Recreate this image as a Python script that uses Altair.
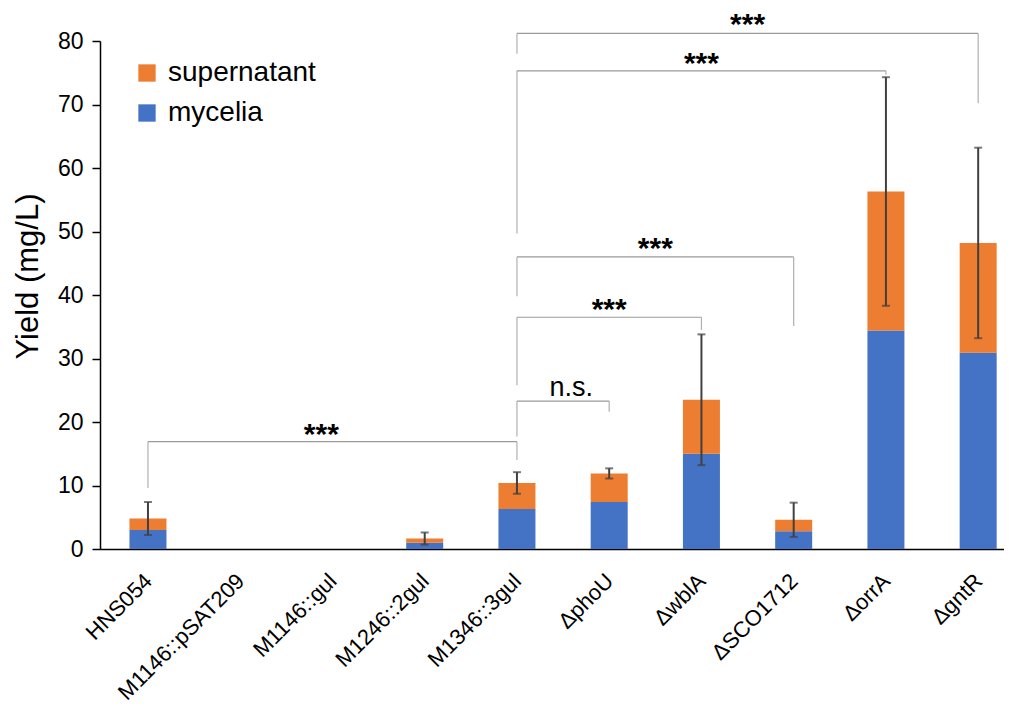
import altair as alt
import pandas as pd

strains = ["HNS054", "M1146::pSAT209", "M1146::gul", "M1246::2gul", "M1346::3gul",
           "ΔphoU", "ΔwblA", "ΔSCO1712", "ΔorrA", "ΔgntR"]
mycelia = [3.0, 0.0, 0.0, 1.0, 6.3, 7.4, 15.0, 2.8, 34.4, 30.9]
supernatant = [1.8, 0.0, 0.0, 0.65, 4.1, 4.5, 8.5, 1.8, 21.9, 17.3]
error = [2.6, 0.0, 0.0, 0.95, 1.7, 0.8, 10.3, 2.7, 18.0, 15.0]

# significance brackets: left index, right index, line level, left leg end, right leg end,
# label position and label
br_left = [0, 4, 4, 4, 4, 4]
br_right = [4, 5, 6, 7, 8, 9]
br_line = [16.9, 23.3, 36.5, 46.0, 75.3, 81.2]
br_leg_left = [9.6, 17.7, 25.8, 39.8, 49.7, 78.0]
br_leg_right = [14.0, 21.6, 34.5, 35.1, 74.7, 70.2]
br_text_x = [1.88, 4.59, 5.0, 5.5, 6.0, 6.5]
br_text_y = [17.9, 25.4, 37.6, 47.2, 76.3, 82.5]
br_label = ["***", "n.s.", "***", "***", "***", "***"]

FONT = "Liberation Sans"
ORANGE = "#ED7D31"
BLUE = "#4472C4"

rows = []
for i, s in enumerate(strains):
    rows.append({"idx": i, "strain": s, "series": "mycelia", "value": mycelia[i], "ord": 0})
    rows.append({"idx": i, "strain": s, "series": "supernatant", "value": supernatant[i], "ord": 1})
bars_df = pd.DataFrame(rows)

err_df = pd.DataFrame({
    "idx": list(range(len(strains))),
    "total": [m + s for m, s in zip(mycelia, supernatant)],
    "err": error,
})
err_df = err_df[err_df["err"] > 0].copy()
err_df["lo"] = err_df["total"] - err_df["err"]
err_df["hi"] = err_df["total"] + err_df["err"]

br_df = pd.DataFrame({
    "i": br_left, "j": br_right, "yl": br_line, "yll": br_leg_left,
    "ylr": br_leg_right, "tx": br_text_x, "ty": br_text_y, "label": br_label,
})
stars_df = br_df[br_df["label"] == "***"]
ns_df = br_df[br_df["label"] != "***"]

label_arr = "[" + ",".join("'" + s + "'" for s in strains) + "]"

xscale = alt.Scale(domain=[-0.52, 9.28], nice=False, zero=False, padding=0)
yscale = alt.Scale(domain=[0, 80], nice=False, padding=0)

x_axis = alt.Axis(values=list(range(len(strains))), labelExpr=label_arr + "[datum.value]",
                  title=None, ticks=False, grid=False, labelAngle=-45, labelFontSize=22,
                  labelFont=FONT, labelColor="black", domainColor="black", domainWidth=1.5,
                  labelPadding=21, labelOffset=-7, labelOverlap=False)
y_axis = alt.Axis(values=[0, 10, 20, 30, 40, 50, 60, 70, 80], title="Yield (mg/L)",
                  grid=False, tickSize=8, tickColor="black", domainColor="black",
                  domainWidth=1.5, tickWidth=1.5, labelFontSize=23, labelFont=FONT,
                  labelColor="black", titleFont=FONT, titleFontSize=31,
                  titleFontWeight="normal", titleColor="black", labelPadding=9,
                  titleX=-63, titleY=235, titleAngle=270, titleBaseline="alphabetic",
                  titleAlign="center")

bars = alt.Chart(bars_df).mark_bar(size=37).encode(
    x=alt.X("idx:Q", scale=xscale, axis=x_axis),
    y=alt.Y("value:Q", scale=yscale, axis=y_axis, stack="zero"),
    color=alt.Color("series:N",
                    scale=alt.Scale(domain=["supernatant", "mycelia"], range=[ORANGE, BLUE]),
                    legend=alt.Legend(title=None, orient="none", legendX=33, legendY=18,
                                      symbolType="square", symbolSize=300,
                                      symbolStrokeWidth=0, labelFontSize=28, labelFont=FONT,
                                      labelColor="black", rowPadding=12, labelOffset=7)),
    order=alt.Order("ord:Q"),
)

err_rule = alt.Chart(err_df).mark_rule(color="#404040", strokeWidth=2).encode(
    x="idx:Q", y="lo:Q", y2="hi:Q")
err_cap_hi = alt.Chart(err_df).mark_tick(color="#404040", size=8, thickness=2,
                                         orient="horizontal").encode(x="idx:Q", y="hi:Q")
err_cap_lo = alt.Chart(err_df).mark_tick(color="#404040", size=8, thickness=2,
                                         orient="horizontal").encode(x="idx:Q", y="lo:Q")

br_color = "#9a9a9a"
br_h = alt.Chart(br_df).mark_rule(color=br_color, strokeWidth=1.2).encode(
    x="i:Q", x2="j:Q", y="yl:Q")
br_l = alt.Chart(br_df).mark_rule(color="#b0b0b0", strokeWidth=1.2).encode(
    x="i:Q", y="yl:Q", y2="yll:Q")
br_r = alt.Chart(br_df).mark_rule(color="#b0b0b0", strokeWidth=1.2).encode(
    x="j:Q", y="yl:Q", y2="ylr:Q")
stars = alt.Chart(stars_df).mark_text(font=FONT, fontSize=30, fontWeight="bold",
                                      color="black", baseline="middle").encode(
    x="tx:Q", y="ty:Q", text="label:N")
ns = alt.Chart(ns_df).mark_text(font=FONT, fontSize=27, color="black",
                                baseline="middle").encode(
    x="tx:Q", y="ty:Q", text="label:N")

chart = alt.layer(bars, err_rule, err_cap_hi, err_cap_lo, br_h, br_l, br_r, stars, ns).properties(
    width=904, height=508,
    autosize=alt.AutoSizeParams(type="none"),
    padding={"left": 92, "top": 33, "right": 0, "bottom": 163},
).configure_view(stroke=None)

chart.save("out.html", embed_options={"renderer": "svg", "actions": False})
